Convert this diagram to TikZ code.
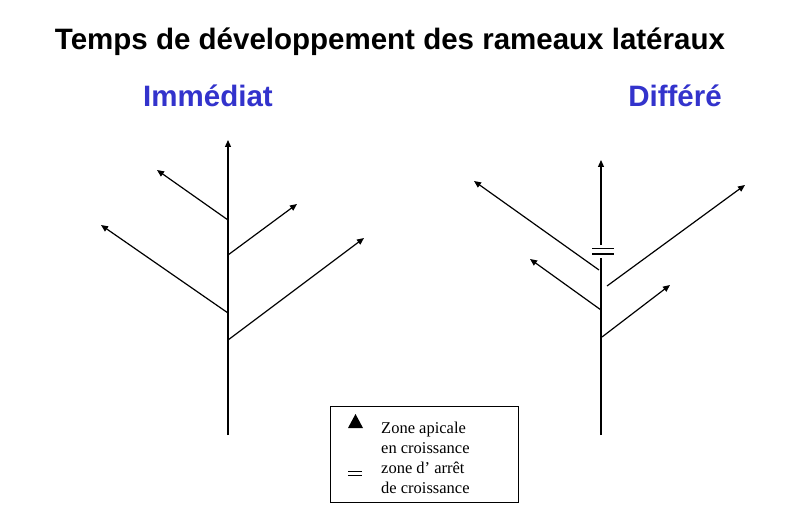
\documentclass[tikz,border=0pt]{standalone}
\usepackage{fontspec}
\setmainfont{Liberation Serif}
\newfontfamily\arialfont{Liberation Sans}
\usetikzlibrary{arrows.meta}
\definecolor{titleblue}{RGB}{51,51,204}
\begin{document}
\begin{tikzpicture}[x=1pt,y=-1pt,
  branch/.style={line width=1.2pt,black,-{Triangle[length=7pt,width=6pt]}},
  plain/.style={line width=1.2pt,black},
  legtext/.style={font=\fontsize{16.5}{20}\selectfont,anchor=base west,inner sep=0pt},
  heading/.style={font=\arialfont\bfseries\fontsize{29.5}{32}\selectfont}]
\useasboundingbox (0,0) rectangle (795,513);
\fill[white] (0,0) rectangle (795,513);
% titles
\node[heading] (title) at (390,42) {Temps de développement des rameaux latéraux};
\node[heading,text=titleblue] (imm) at (208,96) {Immédiat};
\node[heading,text=titleblue] (dif) at (675,96) {Différé};
% left tree
\coordinate (Lb) at (228,435);
\coordinate (Lt) at (228,140);
\coordinate (L1) at (228,220); \coordinate (L1e) at (157,170);
\coordinate (L2) at (228,255); \coordinate (L2e) at (297,204);
\coordinate (L3) at (228,313); \coordinate (L3e) at (101,225);
\coordinate (L4) at (228,340); \coordinate (L4e) at (364,238);
\draw[branch] (Lb) -- (Lt);
\draw[branch] (L1) -- (L1e);
\draw[branch] (L2) -- (L2e);
\draw[branch] (L3) -- (L3e);
\draw[branch] (L4) -- (L4e);
% right tree
\coordinate (Rb) at (601,435);
\coordinate (Rm) at (601,258);
\coordinate (Rs) at (601,245);
\coordinate (Rt) at (601,160);
\draw[plain] (Rb) -- (Rm);
\draw[branch] (Rs) -- (Rt);
\coordinate (Ea) at (592,248.5); \coordinate (Eb) at (614,248.5);
\coordinate (Ec) at (592,254); \coordinate (Ed) at (614,254);
\draw[plain] (Ea) -- (Eb);
\draw[plain] (Ec) -- (Ed);
\coordinate (R1) at (599,270); \coordinate (R1e) at (474,181);
\coordinate (R2) at (607,286); \coordinate (R2e) at (745,185);
\coordinate (R3) at (601,310); \coordinate (R3e) at (530,259);
\coordinate (R4) at (602,337); \coordinate (R4e) at (670,285);
\draw[branch] (R1) -- (R1e);
\draw[branch] (R2) -- (R2e);
\draw[branch] (R3) -- (R3e);
\draw[branch] (R4) -- (R4e);
% legend
\node[draw,line width=0.8pt,minimum width=188pt,minimum height=96pt,inner sep=0pt] (leg) at (424,454) {};
\fill (355.5,414) -- (363,428) -- (348,428) -- cycle;
\coordinate (Qa) at (348,471); \coordinate (Qb) at (362,471);
\coordinate (Qc) at (348,475); \coordinate (Qd) at (362,475);
\draw[line width=0.9pt] (Qa) -- (Qb);
\draw[line width=0.9pt] (Qc) -- (Qd);
\node[legtext] (lt1) at (381,433) {Zone apicale};
\node[legtext] (lt2) at (381,453) {en croissance};
\node[legtext] (lt3) at (381,473) {zone d’ arrêt};
\node[legtext] (lt4) at (381,493) {de croissance};
\end{tikzpicture}
\end{document}
